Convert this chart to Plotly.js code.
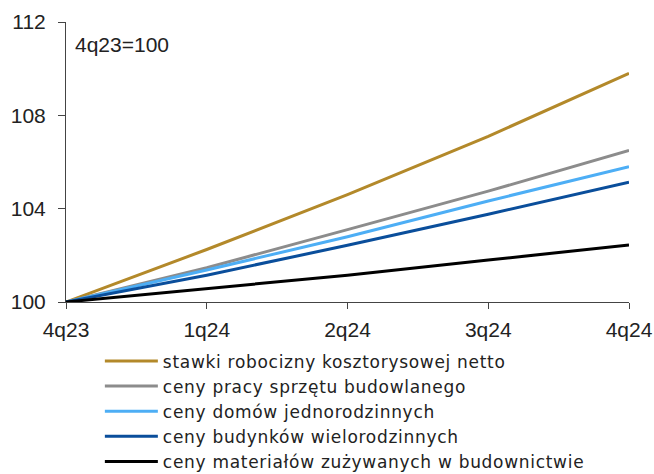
<!DOCTYPE html>
<html><head><meta charset="utf-8">
<script src="https://cdn.plot.ly/plotly-3.0.1.min.js"></script>
<style>html,body{margin:0;padding:0;background:#fff}#chart{width:654px;height:474px}
#chart .legend .legendtext{letter-spacing:0.7px}</style>
</head><body><div id="chart"></div>
<script>
const categories = ["4q23", "1q24", "2q24", "3q24", "4q24"];
const seriesNames = [
  "stawki robocizny kosztorysowej netto",
  "ceny pracy sprzętu budowlanego",
  "ceny domów jednorodzinnych",
  "ceny budynków wielorodzinnych",
  "ceny materiałów zużywanych w budownictwie"
];
const stawki = [100, 102.25, 104.6, 107.1, 109.8];
const sprzet = [100, 101.47, 103.1, 104.75, 106.5];
const domy = [100, 101.37, 102.8, 104.33, 105.8];
const budynki = [100, 101.15, 102.43, 103.76, 105.13];
const materialy = [100, 100.57, 101.15, 101.8, 102.44];
const yTicks = [100, 104, 108, 112];
const note = "4q23=100";

const series = [stawki, sprzet, domy, budynki, materialy];
const colors = ["#B3892A", "#8C8C8C", "#4DAEF5", "#0A4E9B", "#000000"];
const traces = series.map((v, i) => ({
  x: categories, y: v, name: seriesNames[i], type: "scatter", mode: "lines",
  line: {color: colors[i], width: 3}
}));

const tickFont = "Liberation Sans, Arial, sans-serif";
const layout = {
  width: 654, height: 474,
  margin: {l: 66, r: 25, t: 22, b: 172, autoexpand: false},
  paper_bgcolor: "#fff", plot_bgcolor: "#fff",
  font: {family: tickFont, size: 21, color: "#222"},
  xaxis: {
    type: "category", range: [0, 4], showgrid: false, zeroline: false,
    showline: true, linecolor: "#444", linewidth: 1,
    ticks: "outside", ticklen: 6, tickcolor: "#444", ticklabelstandoff: 3,
    tickfont: {family: tickFont, size: 21, color: "#222"}
  },
  yaxis: {
    range: [100, 112], tickvals: yTicks, showgrid: false, zeroline: false,
    showline: true, linecolor: "#444", linewidth: 1,
    ticks: "outside", ticklen: 7, tickcolor: "#444", ticklabelstandoff: 8,
    tickfont: {family: tickFont, size: 21, color: "#222"}
  },
  showlegend: true,
  legend: {
    x: 0.101, y: -0.148, xanchor: "left", yanchor: "top",
    traceorder: "normal",
    font: {family: "DejaVu Sans, sans-serif", size: 17, color: "#222"},
    bgcolor: "rgba(0,0,0,0)", itemwidth: 30
  },
  annotations: [{
    text: note, xref: "paper", yref: "paper", x: 0.0124, y: 0.918,
    xanchor: "left", yanchor: "middle", showarrow: false,
    font: {family: tickFont, size: 21, color: "#222"}
  }]
};
Plotly.newPlot("chart", traces, layout, {displayModeBar: false, staticPlot: true}).then(function (gd) {
  gd.querySelectorAll(".legend .legendlines path").forEach(function (p) {
    p.setAttribute("d", "M-18,0h53");
  });
  gd.querySelectorAll(".legend [clip-path]").forEach(function (el) {
    el.removeAttribute("clip-path");
  });
});
</script></body></html>
